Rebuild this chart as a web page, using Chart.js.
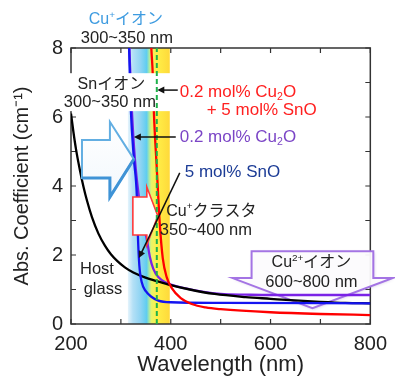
<!DOCTYPE html>
<html>
<head>
<meta charset="utf-8">
<script src="https://cdn.jsdelivr.net/npm/chart.js@4.4.1/dist/chart.umd.min.js"></script>
<style>
  html, body { margin: 0; padding: 0; background: #fff; }
</style>
</head>
<body>
<canvas id="absChart" width="395" height="376"></canvas>
<script>
// spectra (wavelength nm / abs. coefficient cm-1)
const hostWl  = [200, 205, 210, 218, 225, 232, 242, 255, 268, 280, 293, 308, 325, 348, 370, 394, 438, 488, 550, 600, 640, 700, 750, 800];
const hostAbs = [6.1, 5.55, 5.07, 4.45, 3.98, 3.58, 3.1, 2.62, 2.27, 2.02, 1.82, 1.64, 1.49, 1.35, 1.25, 1.15, 1.0, 0.87, 0.78, 0.73, 0.69, 0.64, 0.61, 0.6];

const cuWl  = [316, 318, 322, 328, 336, 345, 352, 358, 365, 375, 390, 430, 500, 550, 600, 700, 800];
const cuAbs = [8.6, 7.6, 6.2, 4.8, 3.7, 2.9, 2.45, 1.95, 1.6, 1.36, 1.2, 1.03, 0.87, 0.85, 0.84, 0.84, 0.84];

const snWl  = [314, 316, 318, 320, 326, 332, 334, 337, 342, 350, 361, 375, 400, 500, 800];
const snAbs = [9.2, 8.2, 7.2, 6.2, 4.8, 3.7, 2.6, 1.7, 1.2, 0.95, 0.79, 0.68, 0.63, 0.61, 0.6];

const mixWl  = [358, 361, 364, 366, 372, 378, 384, 392, 402, 420, 442, 470, 500, 600, 700, 800];
const mixAbs = [9.0, 8.0, 7.2, 6.2, 4.5, 2.9, 1.9, 1.35, 1.04, 0.75, 0.58, 0.48, 0.43, 0.34, 0.29, 0.26];

const markerWl  = [372, 372];
const markerAbs = [0, 8];

const bandWl = [314, 398];

const xTickLabels = [200, 400, 600, 800];
const yTickLabels = [0, 2, 4, 6, 8];

const FONT = '"Liberation Sans", Arial, "Noto Sans CJK JP", sans-serif';
const fnt = (s) => s + 'px ' + FONT;
const pts = (xs, ys) => xs.map((x, i) => ({ x: x, y: ys[i] }));

// annotation texts, positions in data units
const notes = [
  { runs: [['Cu'], ['+', 'sup'], ['イオン']], at: [310, 8.81], size: 16, color: '#3d9be0', align: 'center' },
  { runs: [['300~350 nm']], at: [312, 8.29], size: 16.5, color: '#222', align: 'center' },
  { runs: [['Snイオン']], at: [281, 6.93], size: 16, color: '#222', align: 'center' },
  { runs: [['300~350 nm']], at: [278, 6.41], size: 16.5, color: '#222', align: 'center' },
  { runs: [['0.2 mol% Cu'], ['2', 'sub'], ['O']], at: [418, 6.72], size: 17, color: '#ff2020', align: 'left' },
  { runs: [['+ 5 mol% SnO']], at: [472, 6.2], size: 17, color: '#ff2020', align: 'left' },
  { runs: [['0.2 mol% Cu'], ['2', 'sub'], ['O']], at: [418, 5.42], size: 17, color: '#7b45c6', align: 'left' },
  { runs: [['5 mol% SnO']], at: [428, 4.41], size: 17, color: '#1c3c96', align: 'left' },
  { runs: [['Cu'], ['+', 'sup'], ['クラスタ']], at: [391, 3.25], size: 16, color: '#222', align: 'left' },
  { runs: [['350~400 nm']], at: [378, 2.7], size: 16.5, color: '#222', align: 'left' },
  { runs: [['Host']], at: [252, 1.57], size: 16.5, color: '#222', align: 'center' },
  { runs: [['glass']], at: [264, 0.99], size: 16.5, color: '#222', align: 'center' },
  { runs: [['Cu'], ['2+', 'sup'], ['イオン']], at: [682, 1.77], size: 16, color: '#222', align: 'center' },
  { runs: [['600~800 nm']], at: [682, 1.19], size: 16.5, color: '#222', align: 'center' }
];

const pointers = [
  { from: [414, 6.78], to: [373, 6.78] },
  { from: [410, 5.42], to: [326, 5.42] },
  { from: [418, 4.38], to: [336, 1.91] }
];

const blueArrow = [[222, 5.33], [278, 5.33], [278, 5.86], [326, 4.78], [278, 3.68], [278, 4.23], [222, 4.23]];
const redArrow = [[324, 3.68], [352, 3.68], [352, 3.97], [374, 3.13], [352, 2.29], [352, 2.58], [324, 2.58]];
const callout = [[562, 2.11], [806, 2.11], [806, 1.33], [844, 1.33], [684, 0.46], [524, 1.33], [562, 1.33]];
const labelGap = [[178, 7.27], [414, 6.17]];

function drawRich(ctx, runs, x, y, size, color, align) {
  let w = 0;
  runs.forEach(r => {
    ctx.font = fnt(r[1] ? size * 0.62 : size);
    w += ctx.measureText(r[0]).width;
  });
  let cx = align === 'center' ? x - w / 2 : x;
  ctx.fillStyle = color;
  ctx.textAlign = 'left';
  ctx.textBaseline = 'middle';
  runs.forEach(r => {
    const s = r[1] ? size * 0.62 : size;
    const dy = r[1] === 'sup' ? -size * 0.32 : (r[1] === 'sub' ? size * 0.3 : 0);
    ctx.font = fnt(s);
    ctx.fillText(r[0], cx, y + dy);
    cx += ctx.measureText(r[0]).width;
  });
}

function poly(ctx, xs, ys, list) {
  ctx.beginPath();
  list.forEach((p, i) => {
    const px = xs.getPixelForValue(p[0]), py = ys.getPixelForValue(p[1]);
    if (i === 0) ctx.moveTo(px, py); else ctx.lineTo(px, py);
  });
  ctx.closePath();
}

const decor = {
  id: 'decor',
  beforeDatasetsDraw(chart) {
    const { ctx, chartArea: a, scales: { x, y } } = chart;
    ctx.save();
    // wavelength band
    const b0 = x.getPixelForValue(bandWl[0]), b1 = x.getPixelForValue(bandWl[1]);
    const g = ctx.createLinearGradient(b0, 0, b1, 0);
    g.addColorStop(0, '#e6f4fc');
    g.addColorStop(0.12, '#b4e0f6');
    g.addColorStop(0.3, '#8fd4f3');
    g.addColorStop(0.45, '#5fcdf0');
    g.addColorStop(0.5, '#9fe6b0');
    g.addColorStop(0.56, '#e6f46a');
    g.addColorStop(0.68, '#fff048');
    g.addColorStop(1, '#ffd93a');
    ctx.fillStyle = g;
    ctx.fillRect(b0, a.top, b1 - b0, a.bottom - a.top);

    // frame and inward ticks
    ctx.strokeStyle = '#333';
    ctx.lineWidth = 1.5;
    ctx.strokeRect(a.left, a.top, a.right - a.left, a.bottom - a.top);
    ctx.lineWidth = 1.2;
    ctx.beginPath();
    x.ticks.forEach(t => {
      const px = x.getPixelForValue(t.value);
      ctx.moveTo(px, a.bottom); ctx.lineTo(px, a.bottom - 5);
      ctx.moveTo(px, a.top); ctx.lineTo(px, a.top + 5);
    });
    y.ticks.forEach(t => {
      const py = y.getPixelForValue(t.value);
      ctx.moveTo(a.left, py); ctx.lineTo(a.left + 5, py);
      ctx.moveTo(a.right, py); ctx.lineTo(a.right - 5, py);
    });
    ctx.stroke();

    // Cu2+ callout
    ctx.shadowColor = 'rgba(120,90,170,0.35)';
    ctx.shadowBlur = 3;
    ctx.shadowOffsetX = 1;
    ctx.shadowOffsetY = 1;
    poly(ctx, x, y, callout);
    ctx.fillStyle = 'rgba(255,255,255,0.92)';
    ctx.fill();
    ctx.shadowColor = 'transparent';
    ctx.strokeStyle = '#a474e4';
    ctx.lineWidth = 2;
    ctx.stroke();
    ctx.restore();
  },
  beforeDatasetDraw(chart, args) {
    if (args.index !== 0) return;
    const { ctx, scales: { x, y } } = chart;
    ctx.save();
    // white label box over the upper part
    const gx0 = x.getPixelForValue(labelGap[0][0]), gy0 = y.getPixelForValue(labelGap[0][1]);
    const gx1 = x.getPixelForValue(labelGap[1][0]), gy1 = y.getPixelForValue(labelGap[1][1]);
    ctx.fillStyle = '#fff';
    ctx.fillRect(gx0, gy0, gx1 - gx0, gy1 - gy0);

    // big blue arrow
    poly(ctx, x, y, blueArrow);
    const bg = ctx.createLinearGradient(0, y.getPixelForValue(5.86), 0, y.getPixelForValue(3.68));
    bg.addColorStop(0, '#ffffff');
    bg.addColorStop(1, '#f2f8fd');
    ctx.fillStyle = bg;
    ctx.fill();
    ctx.strokeStyle = '#62aee2';
    ctx.lineWidth = 2;
    ctx.stroke();
    ctx.beginPath();
    ctx.moveTo(x.getPixelForValue(blueArrow[3][0]), y.getPixelForValue(blueArrow[3][1]));
    ctx.lineTo(x.getPixelForValue(blueArrow[4][0]), y.getPixelForValue(blueArrow[4][1]));
    ctx.lineTo(x.getPixelForValue(blueArrow[5][0]), y.getPixelForValue(blueArrow[5][1]));
    ctx.lineTo(x.getPixelForValue(blueArrow[6][0]), y.getPixelForValue(blueArrow[6][1]));
    ctx.strokeStyle = '#3f93d6';
    ctx.lineWidth = 3;
    ctx.stroke();

    // red arrow
    poly(ctx, x, y, redArrow);
    ctx.fillStyle = '#fff';
    ctx.fill();
    ctx.strokeStyle = '#ff3a3a';
    ctx.lineWidth = 1.6;
    ctx.stroke();
    ctx.restore();
  },
  afterDatasetsDraw(chart) {
    const { ctx, scales: { x, y } } = chart;
    ctx.save();
    notes.forEach(n => {
      drawRich(ctx, n.runs, x.getPixelForValue(n.at[0]), y.getPixelForValue(n.at[1]), n.size, n.color, n.align);
    });
    ctx.strokeStyle = '#111';
    ctx.fillStyle = '#111';
    ctx.lineWidth = 1.5;
    pointers.forEach(p => {
      const x0 = x.getPixelForValue(p.from[0]), y0 = y.getPixelForValue(p.from[1]);
      const x1 = x.getPixelForValue(p.to[0]), y1 = y.getPixelForValue(p.to[1]);
      const ang = Math.atan2(y1 - y0, x1 - x0);
      ctx.beginPath();
      ctx.moveTo(x0, y0);
      ctx.lineTo(x1 - 5 * Math.cos(ang), y1 - 5 * Math.sin(ang));
      ctx.stroke();
      ctx.beginPath();
      ctx.moveTo(x1, y1);
      ctx.lineTo(x1 - 7 * Math.cos(ang) + 3.5 * Math.sin(ang), y1 - 7 * Math.sin(ang) - 3.5 * Math.cos(ang));
      ctx.lineTo(x1 - 7 * Math.cos(ang) - 3.5 * Math.sin(ang), y1 - 7 * Math.sin(ang) + 3.5 * Math.cos(ang));
      ctx.closePath();
      ctx.fill();
    });
    ctx.restore();
  }
};

const ctx = document.getElementById('absChart').getContext('2d');
const absChart = new Chart(ctx, {
  type: 'line',
  data: {
    datasets: [{
      label: 'marker',
      data: pts(markerWl, markerAbs),
      borderColor: '#1db14b',
      borderDash: [5, 3],
      borderWidth: 2,
      tension: 0
    }, {
      label: '0.2 mol% Cu2O + 5 mol% SnO',
      data: pts(mixWl, mixAbs),
      borderColor: '#ff0000',
      borderWidth: 2.3,
      cubicInterpolationMode: 'monotone'
    }, {
      label: '5 mol% SnO',
      data: pts(snWl, snAbs),
      borderColor: '#1414f0',
      borderWidth: 2.3,
      cubicInterpolationMode: 'monotone'
    }, {
      label: 'Host glass',
      data: pts(hostWl, hostAbs),
      borderColor: '#000000',
      borderWidth: 2.3,
      cubicInterpolationMode: 'monotone'
    }, {
      label: '0.2 mol% Cu2O',
      data: pts(cuWl, cuAbs),
      borderColor: '#7a22e6',
      borderWidth: 2.3,
      cubicInterpolationMode: 'monotone'
    }]
  },
  options: {
    responsive: false,
    animation: false,
    devicePixelRatio: 1,
    layout: { padding: { top: 48, right: 24, bottom: 0, left: 0 } },
    elements: { point: { radius: 0 } },
    plugins: { legend: { display: false }, tooltip: { enabled: false } },
    scales: {
      x: {
        type: 'linear',
        min: 200,
        max: 800,
        grid: { display: false, drawTicks: false },
        border: { display: false },
        ticks: {
          stepSize: 100,
          autoSkip: false,
          maxRotation: 0,
          padding: 8,
          color: '#222',
          font: { family: FONT, size: 20 },
          callback: (v) => xTickLabels.includes(v) ? String(v) : ''
        },
        title: {
          display: true,
          text: 'Wavelength (nm)',
          color: '#222',
          font: { family: FONT, size: 22, lineHeight: 1 },
          padding: { top: 0, bottom: 0 }
        },
        afterFit: (s) => { s.height = 52; }
      },
      y: {
        min: 0,
        max: 8,
        grid: { display: false, drawTicks: false },
        border: { display: false },
        ticks: {
          stepSize: 1,
          autoSkip: false,
          padding: 8,
          color: '#222',
          font: { family: FONT, size: 20 },
          callback: (v) => yTickLabels.includes(v) ? String(v) : ''
        },
        title: {
          display: true,
          text: 'Abs. Coefficient (cm⁻¹)',
          color: '#222',
          font: { family: FONT, size: 20, lineHeight: 1.2 },
          padding: { top: 10, bottom: 0 }
        },
        afterFit: (s) => { s.width = 71; }
      }
    }
  },
  plugins: [decor]
});
</script>
</body>
</html>
